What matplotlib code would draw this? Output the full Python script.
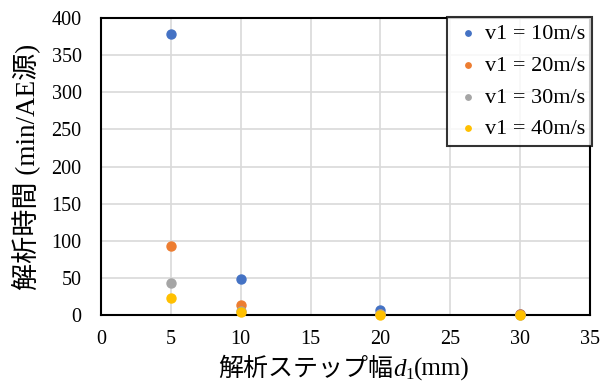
import matplotlib
matplotlib.use("Agg")
import matplotlib.pyplot as plt

plt.rcParams['font.family'] = ['Liberation Serif', 'Noto Sans CJK JP']

step = [5, 10, 20, 30]
labels = ["v1 = 10m/s", "v1 = 20m/s", "v1 = 30m/s", "v1 = 40m/s"]
v10 = [378, 49, 7, 2]
v20 = [93, 13, 2, 1]
v30 = [43, 6, 1, 0.5]
v40 = [23, 4, 0.5, 0.3]
series = [v10, v20, v30, v40]
colors = ["#4472C4", "#ED7D31", "#A5A5A5", "#FFC000"]

fig = plt.figure(figsize=(6.08, 3.83), dpi=100)
ax = fig.add_axes([101/608, 1-315/383, (590-101)/608, (315-18)/383])

for vals, lab, c in zip(series, labels, colors):
    ax.scatter(step, vals, s=42, color=c, label=lab, zorder=3, clip_on=False)

ax.set_xlim(0, 35)
ax.set_ylim(0, 400)
ax.set_xticks(range(0, 36, 5))
ax.set_yticks(range(0, 401, 50))
ax.grid(True, color="#D9D9D9", linewidth=1.2)
ax.set_axisbelow(True)
for s in ax.spines.values():
    s.set_color("black")
    s.set_linewidth(1.5)
ax.tick_params(length=0, labelsize=14.5)
ax.tick_params(axis='x', pad=11)
ax.tick_params(axis='y', pad=14)

ax.set_ylabel("解析時間 (min/AE源)", fontsize=19.5, labelpad=8)

# x label composed of pieces (CJK + italic d + subscript 1 + (mm))
fig.canvas.draw()
r = fig.canvas.get_renderer()
pieces = [("解析ステップ幅", dict(fontsize=18), 0),
          ("d", dict(fontsize=18, style='italic'), 0),
          ("1", dict(fontsize=12), -3),
          ("(mm)", dict(fontsize=18), 0)]
texts = []
total = 0
for s, kw, dy in pieces:
    t = fig.text(0, 0, s, **kw)
    w = t.get_window_extent(r).width
    texts.append((t, w, dy))
    total += w
cx = 344
x0 = cx - total / 2
base_y = 7  # pixels from bottom
for t, w, dy in texts:
    t.set_position((x0 / 608, (base_y + dy) / 383))
    t.set_va('baseline')
    x0 += w

leg = ax.legend(loc="upper right", bbox_to_anchor=(1.004, 1.003), fontsize=16,
                frameon=True, fancybox=False, edgecolor="black", markerscale=0.6,
                handletextpad=0.1, borderpad=0.3, labelspacing=0.5, handlelength=1.3,
                borderaxespad=0)
leg.get_frame().set_linewidth(1.5)

fig.savefig("out.png", dpi=100)
